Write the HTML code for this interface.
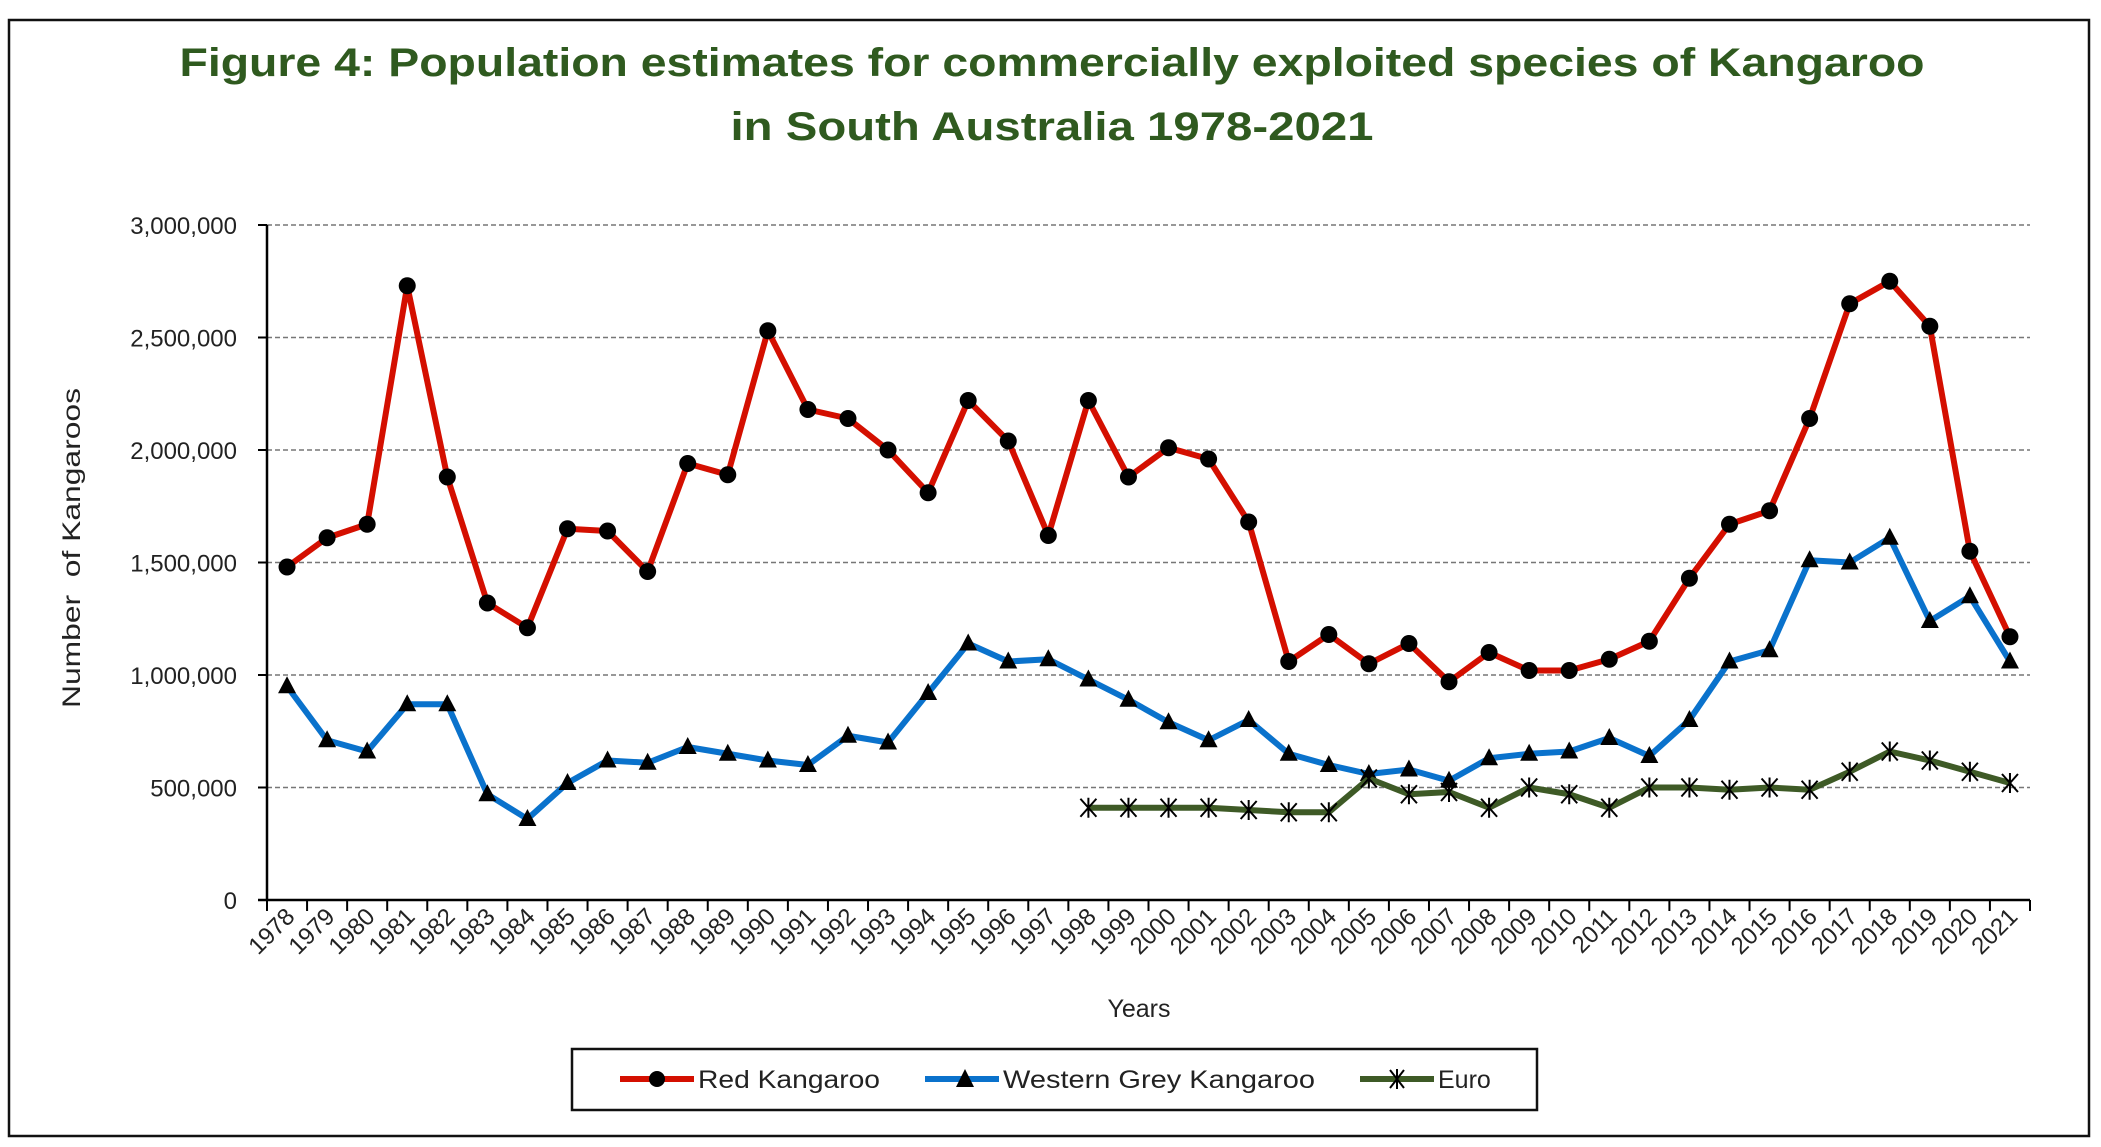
<!DOCTYPE html>
<html><head><meta charset="utf-8">
<style>
html,body{margin:0;padding:0;background:#fff;}
svg{display:block;font-family:"Liberation Sans",sans-serif;}
</style></head>
<body>
<svg id="chart" width="2101" height="1147" viewBox="0 0 2101 1147" xmlns="http://www.w3.org/2000/svg">
<rect x="9" y="20" width="2080" height="1116" fill="#fff" stroke="#111" stroke-width="2.5"/>
<text x="1052" y="76" text-anchor="middle" font-size="40" font-weight="bold" fill="#2f5a1f" textLength="1745" lengthAdjust="spacingAndGlyphs">Figure 4: Population estimates for commercially exploited species of Kangaroo</text>
<text x="1052" y="140" text-anchor="middle" font-size="40" font-weight="bold" fill="#2f5a1f" textLength="643" lengthAdjust="spacingAndGlyphs">in South Australia 1978-2021</text>
<g id="grid"></g><g id="axes"></g><g id="series"></g>
<text x="0" y="0" transform="translate(80,548) rotate(-90)" text-anchor="middle" font-size="25" fill="#222" textLength="320" lengthAdjust="spacingAndGlyphs">Number&#160; of Kangaroos</text>
<text x="1139" y="1017" text-anchor="middle" font-size="25" fill="#222">Years</text>
<g>
<rect x="572" y="1049" width="965" height="61" fill="#fff" stroke="#111" stroke-width="2.5"/>
<g>
<line x1="620" y1="1079" x2="694" y2="1079" stroke="#d40f00" stroke-width="6"/>
<circle cx="657" cy="1079" r="8" fill="#000"/>
<text x="698" y="1088" font-size="25" fill="#222" textLength="182" lengthAdjust="spacingAndGlyphs">Red Kangaroo</text></g>
<g>
<line x1="925" y1="1079" x2="999" y2="1079" stroke="#0a72cc" stroke-width="6"/>
<polygon points="965,1069 974,1087 956,1087" fill="#000"/>
<text x="1003" y="1088" font-size="25" fill="#222" textLength="312" lengthAdjust="spacingAndGlyphs">Western Grey Kangaroo</text></g>
<g>
<line x1="1360" y1="1079" x2="1434" y2="1079" stroke="#3e5a26" stroke-width="6"/>
<path d="M1390,1070 L1404,1088 M1404,1070 L1390,1088 M1397,1069 L1397,1089" stroke="#000" stroke-width="2"/>
<text x="1438" y="1088" font-size="25" fill="#222">Euro</text></g>
</g>
</svg>
<script>
const years = [];
for (let y = 1978; y <= 2021; y++) years.push(y);
const redKangaroo = [1.48,1.61,1.67,2.73,1.88,1.32,1.21,1.65,1.64,1.46,1.94,1.89,2.53,2.18,2.14,2.0,1.81,2.22,2.04,1.62,2.22,1.88,2.01,1.96,1.68,1.06,1.18,1.05,1.14,0.97,1.1,1.02,1.02,1.07,1.15,1.43,1.67,1.73,2.14,2.65,2.75,2.55,1.55,1.17];
const westernGrey = [0.95,0.71,0.66,0.87,0.87,0.47,0.36,0.52,0.62,0.61,0.68,0.65,0.62,0.6,0.73,0.7,0.92,1.14,1.06,1.07,0.98,0.89,0.79,0.71,0.8,0.65,0.6,0.56,0.58,0.53,0.63,0.65,0.66,0.72,0.64,0.8,1.06,1.11,1.51,1.5,1.61,1.24,1.35,1.06];
const euroStartYear = 1998;
const euro = [0.41,0.41,0.41,0.41,0.4,0.39,0.39,0.54,0.47,0.48,0.41,0.5,0.47,0.41,0.5,0.5,0.49,0.5,0.49,0.57,0.66,0.62,0.57,0.52];
const yTicks = [0,500000,1000000,1500000,2000000,2500000,3000000];
const yTickLabels = ["0","500,000","1,000,000","1,500,000","2,000,000","2,500,000","3,000,000"];

const NS = "http://www.w3.org/2000/svg";
const L = 267, R = 2030, T = 225, B = 900;
const bw = (R - L) / years.length;
const xScale = i => L + bw * (i + 0.5);
const yScale = v => B - (v / 3000000) * (B - T);
function mk(tag, attrs, parent) {
  const e = document.createElementNS(NS, tag);
  for (const k in attrs) e.setAttribute(k, attrs[k]);
  parent.appendChild(e);
  return e;
}
const grid = document.getElementById('grid');
const axes = document.getElementById('axes');
const series = document.getElementById('series');

yTicks.forEach((v, i) => {
  const y = yScale(v);
  if (v > 0) {
    const g = mk('line', {x1: L, x2: R, y1: y, y2: y, stroke: '#777', 'stroke-width': 1.5, 'stroke-dasharray': '5,3'}, grid);
    
    
  }
  const t = mk('line', {x1: L - 9, x2: L, y1: y, y2: y, stroke: '#000', 'stroke-width': 2}, axes);
  
  
  const lb = mk('text', {x: L - 30, y: y + 9, 'text-anchor': 'end', 'font-size': 24, fill: '#222'}, axes);
  lb.textContent = yTickLabels[i];
  
  
});
const ya = mk('line', {x1: L, x2: L, y1: T, y2: B, stroke: '#000', 'stroke-width': 2.5}, axes);


const xa = mk('line', {x1: L - 9, x2: R, y1: B, y2: B, stroke: '#000', 'stroke-width': 2.5}, axes);


for (let i = 0; i <= years.length; i++) {
  const x = L + bw * i;
  const t = mk('line', {x1: x, x2: x, y1: B, y2: B + 11, stroke: '#000', 'stroke-width': 2}, axes);
  
  
}
years.forEach((yr, i) => {
  const x = xScale(i) + 9, y = B + 18;
  const lb = mk('text', {x: x, y: y, 'text-anchor': 'end', 'font-size': 24, fill: '#222', transform: `rotate(-45 ${x} ${y})`}, axes);
  lb.textContent = yr;
  
  
});

function drawSeries(vals, offset, color, marker, name) {
  const g = mk('g', {}, series);
  
  
  const pts = vals.map((v, i) => [xScale(i + offset), yScale(v * 1000000)]);
  const pl = mk('polyline', {points: pts.map(p => p.join(',')).join(' '), fill: 'none', stroke: color, 'stroke-width': 6, 'stroke-linejoin': 'round'}, g);
  
  
  pts.forEach(([x, y]) => {
    let m;
    if (marker === 'circle') m = mk('circle', {cx: x, cy: y, r: 8.5, fill: '#000'}, g);
    else if (marker === 'triangle') m = mk('polygon', {points: `${x},${y - 10} ${x + 9},${y + 7} ${x - 9},${y + 7}`, fill: '#000'}, g);
    else m = mk('path', {d: `M${x - 8},${y - 9} L${x + 8},${y + 9} M${x + 8},${y - 9} L${x - 8},${y + 9} M${x},${y - 10} L${x},${y + 10}`, stroke: '#000', 'stroke-width': 2}, g);
    
    
  });
}
drawSeries(westernGrey, 0, '#0a72cc', 'triangle', 'western-grey-series');
drawSeries(euro, euroStartYear - years[0], '#3e5a26', 'star', 'euro-series');
drawSeries(redKangaroo, 0, '#d40f00', 'circle', 'red-kangaroo-series');
</script>
</body></html>
